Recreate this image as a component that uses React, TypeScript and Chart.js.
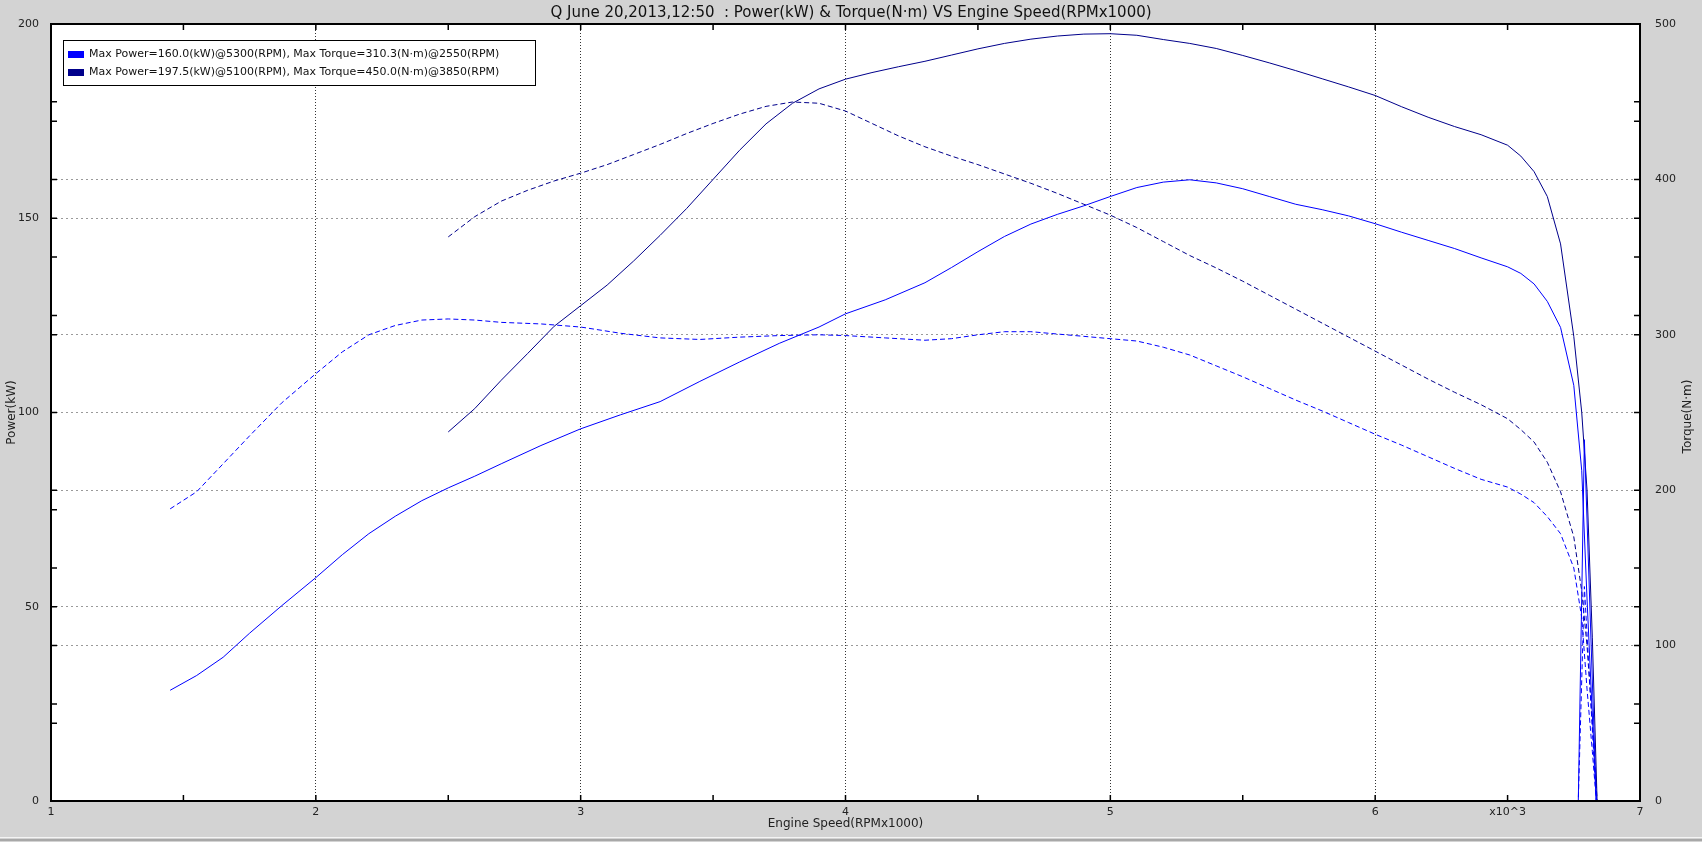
import { useEffect, useRef } from 'react';
import { Chart, registerables } from 'chart.js';

Chart.register(...registerables);

const FONT = "'DejaVu Sans', Verdana, sans-serif";
const BG = '#d3d3d3';
const BLUE = '#0000ff';
const NAVY = '#00008b';

const TITLE = 'Q June 20,2013,12:50  : Power(kW) & Torque(N·m) VS Engine Speed(RPMx1000)';
const X_TITLE = 'Engine Speed(RPMx1000)';
const Y_LEFT_TITLE = 'Power(kW)';
const Y_RIGHT_TITLE = 'Torque(N·m)';
const X_EXPONENT_LABEL = 'x10^3';
const LEGEND_LABELS = [
  'Max Power=160.0(kW)@5300(RPM), Max Torque=310.3(N·m)@2550(RPM)',
  'Max Power=197.5(kW)@5100(RPM), Max Torque=450.0(N·m)@3850(RPM)',
];

// Run 1 (blue)
const rpm1 = [
  1.45, 1.55, 1.65, 1.75, 1.87, 2.0, 2.1, 2.2, 2.3, 2.4, 2.5, 2.6, 2.7, 2.85, 3.0, 3.15, 3.3, 3.45,
  3.6, 3.75, 3.9, 4.0, 4.15, 4.3, 4.4, 4.5, 4.6, 4.7, 4.8, 4.9, 5.0, 5.1, 5.2, 5.3, 5.4, 5.5, 5.6,
  5.7, 5.8, 5.9, 6.0, 6.1, 6.2, 6.3, 6.4, 6.5, 6.55, 6.6, 6.65, 6.7, 6.75, 6.78, 6.8, 6.82, 6.835,
  6.79, 6.767,
];
const power1 = [
  28.5, 32.3, 37, 43.2, 50.2, 57.5, 63.4, 68.8, 73.3, 77.3, 80.6, 83.6, 86.8, 91.5, 95.8, 99.4, 102.8,
  108, 113, 117.8, 122, 125.4, 129, 133.4, 137.3, 141.4, 145.3, 148.5, 151, 153.2, 155.6, 157.9,
  159.3, 159.9, 159.1, 157.6, 155.6, 153.6, 152.2, 150.6, 148.6, 146.4, 144.3, 142.2, 139.8, 137.5,
  135.8, 133.1, 128.6, 121.9, 107, 85, 52, 22, 0, 93, 0,
];
const torque1 = [
  188, 199, 217, 235, 256, 275, 289, 300, 306, 309.5, 310.2, 309.5, 308, 307, 305, 301, 298, 297,
  298.5, 299.5, 300, 299.5, 298, 296.5, 297.5, 300, 302, 302, 300.5, 299, 297.5, 296, 292, 287, 280,
  273, 265.5, 258, 251, 243.5, 236, 229, 221.5, 214, 207, 202, 197.5, 192, 183, 172, 150, 118, 72, 32,
  0, 138, 0,
];

// Run 2 (navy)
const rpm2 = [
  2.5, 2.6, 2.7, 2.8, 2.9, 3.0, 3.1, 3.2, 3.3, 3.4, 3.5, 3.6, 3.7, 3.8, 3.9, 4.0, 4.1, 4.2, 4.3, 4.4,
  4.5, 4.6, 4.7, 4.8, 4.9, 5.0, 5.1, 5.2, 5.3, 5.4, 5.5, 5.6, 5.7, 5.8, 5.9, 6.0, 6.1, 6.2, 6.3, 6.4,
  6.5, 6.55, 6.6, 6.65, 6.7, 6.75, 6.78, 6.8, 6.82, 6.838,
];
const power2 = [
  95, 101, 108.3, 115.2, 122.2, 127.5, 132.8, 139, 145.6, 152.5, 160, 167.5, 174.3, 179.6, 183.3,
  185.8, 187.5, 189, 190.4, 192, 193.6, 195, 196.1, 196.9, 197.4, 197.5, 197.1, 196, 195, 193.7,
  191.9, 190, 188, 185.9, 183.8, 181.6, 178.7, 176, 173.6, 171.5, 168.8, 166, 162, 155.6, 143.4,
  119.6, 100, 80, 42, 0,
];
const torque2 = [
  363, 376, 386, 393, 399, 404, 409.5, 416, 422.5, 429.5, 436, 442, 447, 449.8, 449, 444, 436, 428,
  421, 415, 409.5, 403.5, 397.5, 391, 384, 377, 369, 360, 351, 343, 334.5, 325.5, 316.5, 307.5,
  298.5, 289.5, 280.5, 271.5, 263, 255, 246, 239, 231, 218, 199, 170, 135, 100, 51, 0,
];

const X_MIN = 1;
const X_MAX = 7;
const X_STEP = 0.5;
const POWER_MAX = 200;
const POWER_STEP = 25;
const POWER_LABEL_STEP = 50;
const TORQUE_MAX = 500;
const TORQUE_STEP = 50;
const TORQUE_LABEL_STEP = 100;

const toPoints = (xs: number[], ys: number[]) => xs.map((x, i) => ({ x, y: ys[i] }));

const backgroundPlugin = {
  id: 'bgPlugin',
  beforeDraw(chart: any) {
    const { ctx, chartArea: a, width, height } = chart;
    ctx.save();
    ctx.fillStyle = BG;
    ctx.fillRect(0, 0, width, height);
    ctx.fillStyle = '#f4f4f4';
    ctx.fillRect(0, height - 5, width, 1);
    ctx.fillStyle = '#a8a8a8';
    ctx.fillRect(0, height - 3, width, 2);
    ctx.fillStyle = '#ffffff';
    ctx.fillRect(a.left, a.top, a.right - a.left, a.bottom - a.top);
    ctx.restore();
  },
};

const framePlugin = {
  id: 'framePlugin',
  afterDraw(chart: any) {
    const { ctx, chartArea: a, scales } = chart;
    ctx.save();
    // inward tick marks
    ctx.strokeStyle = '#000';
    ctx.lineWidth = 1.5;
    const L = 6;
    ctx.beginPath();
    for (const t of scales.x.ticks) {
      const px = scales.x.getPixelForValue(t.value);
      ctx.moveTo(px, a.bottom);
      ctx.lineTo(px, a.bottom - L);
      ctx.moveTo(px, a.top);
      ctx.lineTo(px, a.top + L);
    }
    for (const id of ['y', 'y2']) {
      const s = scales[id];
      for (const t of s.ticks) {
        const py = s.getPixelForValue(t.value);
        ctx.moveTo(a.left, py);
        ctx.lineTo(a.left + L, py);
        ctx.moveTo(a.right, py);
        ctx.lineTo(a.right - L, py);
      }
    }
    ctx.stroke();
    // box
    ctx.lineWidth = 2;
    ctx.strokeRect(a.left, a.top, a.right - a.left, a.bottom - a.top);

    // right axis title, reading bottom to top
    ctx.fillStyle = '#222';
    ctx.font = `12px ${FONT}`;
    ctx.textAlign = 'center';
    ctx.textBaseline = 'middle';
    ctx.translate(1688, (a.top + a.bottom) / 2 + 4);
    ctx.rotate(-Math.PI / 2);
    ctx.fillText(Y_RIGHT_TITLE, 0, 0);
    ctx.restore();

    // legend
    ctx.save();
    const colors = [chart.data.datasets[0].borderColor, chart.data.datasets[2].borderColor];
    const lx = a.left + 12;
    const ly = a.top + 16;
    const lw = 472;
    const lh = 45;
    ctx.fillStyle = '#fff';
    ctx.fillRect(lx, ly, lw, lh);
    ctx.strokeStyle = '#000';
    ctx.lineWidth = 1;
    ctx.strokeRect(lx + 0.5, ly + 0.5, lw, lh);
    ctx.font = `11px ${FONT}`;
    ctx.textAlign = 'left';
    ctx.textBaseline = 'middle';
    LEGEND_LABELS.forEach((label, i) => {
      const cy = ly + 14 + i * 18;
      ctx.fillStyle = colors[i];
      ctx.fillRect(lx + 5, cy - 3, 16, 7);
      ctx.fillStyle = '#111';
      ctx.fillText(label, lx + 26, cy);
    });
    ctx.restore();
  },
};

export default function App() {
  const ref = useRef<HTMLCanvasElement | null>(null);

  useEffect(() => {
    document.body.style.margin = '0';
    document.body.style.background = BG;
    const canvas = ref.current;
    if (!canvas) return;

    const chart = new Chart(canvas, {
      type: 'line',
      data: {
        datasets: [
          {
            label: 'Power 1',
            data: toPoints(rpm1, power1),
            borderColor: BLUE,
            borderWidth: 1,
            pointRadius: 0,
            yAxisID: 'y',
            tension: 0,
          },
          {
            label: 'Torque 1',
            data: toPoints(rpm1, torque1),
            borderColor: BLUE,
            borderWidth: 1,
            borderDash: [5, 3],
            pointRadius: 0,
            yAxisID: 'y2',
            tension: 0,
          },
          {
            label: 'Power 2',
            data: toPoints(rpm2, power2),
            borderColor: NAVY,
            borderWidth: 1,
            pointRadius: 0,
            yAxisID: 'y',
            tension: 0,
          },
          {
            label: 'Torque 2',
            data: toPoints(rpm2, torque2),
            borderColor: NAVY,
            borderWidth: 1,
            borderDash: [5, 3],
            pointRadius: 0,
            yAxisID: 'y2',
            tension: 0,
          },
        ],
      },
      options: {
        responsive: false,
        maintainAspectRatio: false,
        devicePixelRatio: 1,
        animation: false,
        events: [],
        layout: { padding: 0, autoPadding: false },
        plugins: {
          legend: { display: false },
          tooltip: { enabled: false },
          title: {
            display: true,
            text: TITLE,
            color: '#111',
            font: { family: FONT, size: 15, weight: 'normal' },
            padding: { top: 4, bottom: 2 },
          },
        },
        scales: {
          x: {
            type: 'linear',
            position: 'bottom',
            min: X_MIN,
            max: X_MAX,
            afterFit: (s: any) => {
              s.height = 41;
            },
            ticks: {
              stepSize: X_STEP,
              autoSkip: false,
              maxRotation: 0,
              minRotation: 0,
              padding: 5,
              color: '#222',
              font: { family: FONT, size: 11 },
              callback: (v: any) => {
                const n = Number(v);
                if (Number.isInteger(n)) return String(n);
                if (Math.abs(n - 6.5) < 1e-9) return X_EXPONENT_LABEL;
                return '';
              },
            },
            grid: {
              drawTicks: false,
              lineWidth: 1,
              color: (c: any) => {
                const v = c.tick ? c.tick.value : NaN;
                return Number.isInteger(v) && v > X_MIN && v < X_MAX ? '#333' : 'rgba(0,0,0,0)';
              },
            },
            border: { display: false, dash: [1, 2] },
            title: {
              display: true,
              text: X_TITLE,
              color: '#222',
              font: { family: FONT, size: 12 },
              padding: { top: 0, bottom: 11 },
            },
          },
          y: {
            type: 'linear',
            position: 'left',
            min: 0,
            max: POWER_MAX,
            afterFit: (s: any) => {
              s.width = 51;
            },
            ticks: {
              stepSize: POWER_STEP,
              padding: 12,
              color: '#222',
              font: { family: FONT, size: 11 },
              callback: (v: any) => (Number(v) % POWER_LABEL_STEP === 0 ? String(v) : ''),
            },
            grid: {
              drawTicks: false,
              lineWidth: 1,
              color: (c: any) => {
                const v = c.tick ? c.tick.value : NaN;
                return v % POWER_LABEL_STEP === 0 && v > 0 && v < POWER_MAX ? '#9a9a9a' : 'rgba(0,0,0,0)';
              },
            },
            border: { display: false, dash: [2, 3] },
            title: {
              display: true,
              text: Y_LEFT_TITLE,
              color: '#222',
              font: { family: FONT, size: 12 },
              padding: { top: 5, bottom: 0 },
            },
          },
          y2: {
            type: 'linear',
            position: 'right',
            min: 0,
            max: TORQUE_MAX,
            afterFit: (s: any) => {
              s.width = 62;
            },
            ticks: {
              stepSize: TORQUE_STEP,
              padding: 15,
              color: '#222',
              font: { family: FONT, size: 11 },
              callback: (v: any) => (Number(v) % TORQUE_LABEL_STEP === 0 ? String(v) : ''),
            },
            grid: {
              drawTicks: false,
              lineWidth: 1,
              color: (c: any) => {
                const v = c.tick ? c.tick.value : NaN;
                return v % TORQUE_LABEL_STEP === 0 && v > 0 && v < TORQUE_MAX ? '#9a9a9a' : 'rgba(0,0,0,0)';
              },
            },
            border: { display: false, dash: [2, 3] },
            title: { display: false },
          },
        },
      } as any,
      plugins: [backgroundPlugin, framePlugin],
    });

    return () => chart.destroy();
  }, []);

  return (
    <div style={{ width: 1702, height: 842, background: BG }}>
      <canvas ref={ref} width={1702} height={842} style={{ display: 'block', width: 1702, height: 842 }} />
    </div>
  );
}
